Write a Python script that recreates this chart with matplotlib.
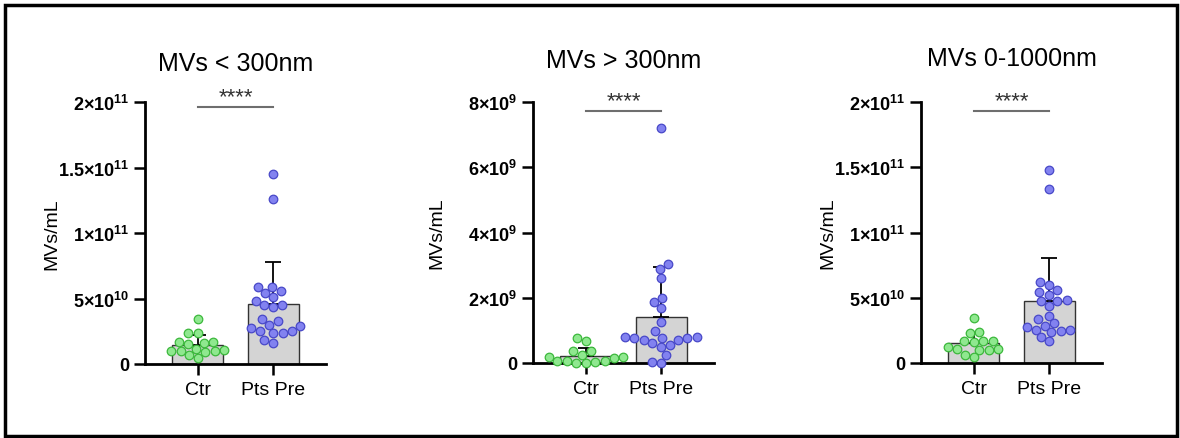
import numpy as np
import matplotlib
matplotlib.use('Agg')
import matplotlib.pyplot as plt
from matplotlib.patches import Rectangle

plt.rcParams['font.family'] = ['Liberation Sans', 'DejaVu Sans']
plt.rcParams['mathtext.fontset'] = 'custom'
plt.rcParams['mathtext.rm'] = 'Liberation Sans:bold'
plt.rcParams['mathtext.bf'] = 'Liberation Sans:bold'
plt.rcParams['mathtext.it'] = 'Liberation Sans:bold'

# ---- data ----
groups = ['Ctr', 'Pts Pre']
titles = ['MVs < 300nm', 'MVs > 300nm', 'MVs 0-1000nm']

ctr_lt300 = np.array([3.4, 2.4, 2.4, 1.7, 1.7, 1.6, 1.5, 1.15, 1.1, 1.0, 1.0, 0.9, 1.0, 0.45, 0.65]) * 1e10
pts_lt300 = np.array([14.47, 12.6, 5.55, 5.43, 5.9, 5.86, 5.1, 4.8, 4.5, 4.33, 4.5, 3.44, 3.26,
                      2.88, 2.98, 2.73, 2.5, 2.34, 2.34, 2.5, 1.86, 1.6]) * 1e10

ctr_gt300 = np.array([0.76, 0.66, 0.36, 0.36, 0.19, 0.19, 0.15, 0.26, 0.05, 0.05, 0.0, 0.05, 0.01, 0.02]) * 1e9
pts_gt300 = np.array([7.2, 3.02, 2.88, 2.6, 1.86, 1.98, 1.68, 1.25, 0.97, 0.76, 0.76, 0.79, 0.61,
                      0.56, 0.72, 0.72, 0.79, 0.77, 0.48, 0.25, 0.01, 0.03]) * 1e9

ctr_all = np.array([3.48, 2.35, 2.28, 1.71, 1.66, 1.66, 1.64, 0.64, 1.07, 1.0, 1.07, 1.2, 1.0, 0.43]) * 1e10
pts_all = np.array([14.8, 13.3, 6.19, 6.0, 5.63, 5.42, 5.22, 4.86, 4.73, 4.78, 4.4, 3.63, 3.38, 3.04,
                    2.56, 2.86, 2.74, 2.48, 2.56, 2.35, 1.97, 1.66]) * 1e10

ymaxes = [2e11, 8e9, 2e11]
yticks_list = [[0, 5e10, 1e11, 1.5e11, 2e11],
               [0, 2e9, 4e9, 6e9, 8e9],
               [0, 5e10, 1e11, 1.5e11, 2e11]]
yticklabels_list = [['0', '5×10$^{10}$', '1×10$^{11}$', '1.5×10$^{11}$', '2×10$^{11}$'],
                    ['0', '2×10$^{9}$', '4×10$^{9}$', '6×10$^{9}$', '8×10$^{9}$'],
                    ['0', '5×10$^{10}$', '1×10$^{11}$', '1.5×10$^{11}$', '2×10$^{11}$']]
panels = [(ctr_lt300, pts_lt300), (ctr_gt300, pts_gt300), (ctr_all, pts_all)]

dot_fill = ['#8fe88f', '#8282f0']
dot_edge = ['#3cb83c', '#4848c8']


def swarm_offsets(vals, ymax, d=9.2, px_x=75.4, px_y=262.0):
    """simple beeswarm: returns x offsets in data units"""
    py = np.asarray(vals) / ymax * px_y
    cands = sorted(np.arange(-45, 45.01, 0.5), key=lambda v: (abs(v), v))
    placed = []
    offs = np.zeros(len(py))
    for i in np.argsort(py):
        for o in cands:
            if all((o - a) ** 2 + (py[i] - b) ** 2 >= d * d for a, b in placed):
                break
        placed.append((o, py[i]))
        offs[i] = o / px_x
    return offs


fig = plt.figure(figsize=(11.8, 4.39), dpi=100)
lefts = [145 / 1180, 533 / 1180, 921 / 1180]
bottoms = [1 - 365 / 439, 1 - 364 / 439, 1 - 364 / 439]
tops = [1 - 103 / 439] * 3
sig_frac = [0.98, 0.965, 0.965]
title_pad = [23, 25, 27]
ylabel_x = [-0.47, -0.485, -0.47]

for k in range(3):
    ax = fig.add_axes([lefts[k], bottoms[k], 181 / 1180, tops[k] - bottoms[k]])
    ymax = ymaxes[k]
    for j, vals in enumerate(panels[k]):
        m = vals.mean()
        sd = vals.std(ddof=1)
        ax.bar(j, m, width=0.68, color='#d4d4d4', edgecolor='#333333', linewidth=1.0, zorder=1)
        ax.errorbar(j, m, yerr=[[0], [sd]], color='black', capsize=6, elinewidth=1.3,
                    capthick=1.3, zorder=2)
        ax.scatter(j + swarm_offsets(vals, ymax), vals, s=38, facecolor=dot_fill[j],
                   edgecolor=dot_edge[j], linewidth=0.9, zorder=3, clip_on=False)

    ax.set_xlim(-0.7, 1.7)
    ax.set_ylim(0, ymax)
    ax.set_xticks([0, 1])
    ax.set_xticklabels(groups, fontsize=14)
    ax.set_yticks(yticks_list[k])
    ax.set_yticklabels(yticklabels_list[k], fontsize=13, fontweight='bold')
    ax.tick_params(axis='both', length=8, width=1.8, direction='out')
    ax.tick_params(axis='x', pad=4)
    for s in ['top', 'right']:
        ax.spines[s].set_visible(False)
    for s in ['left', 'bottom']:
        ax.spines[s].set_linewidth(2.0)
    ax.set_ylabel('MVs/mL', fontsize=14)
    ax.yaxis.set_label_coords(ylabel_x[k], 0.5)
    ax.set_title(titles[k], fontsize=18, pad=title_pad[k])

    h = sig_frac[k] * ymax
    ax.plot([0, 1], [h, h], color='#6e6e6e', lw=1.5, clip_on=False)
    ax.annotate('****', xy=(0.5, h), xytext=(0, 0), textcoords='offset points',
                ha='center', va='bottom', fontsize=16, color='#333333')

fig.add_artist(Rectangle((5 / 1180, 1 - 437 / 439), 1172 / 1180, 431 / 439,
                         transform=fig.transFigure, fill=False, lw=2.5, ec='black'))

fig.savefig('out.png', dpi=100, facecolor='white')
